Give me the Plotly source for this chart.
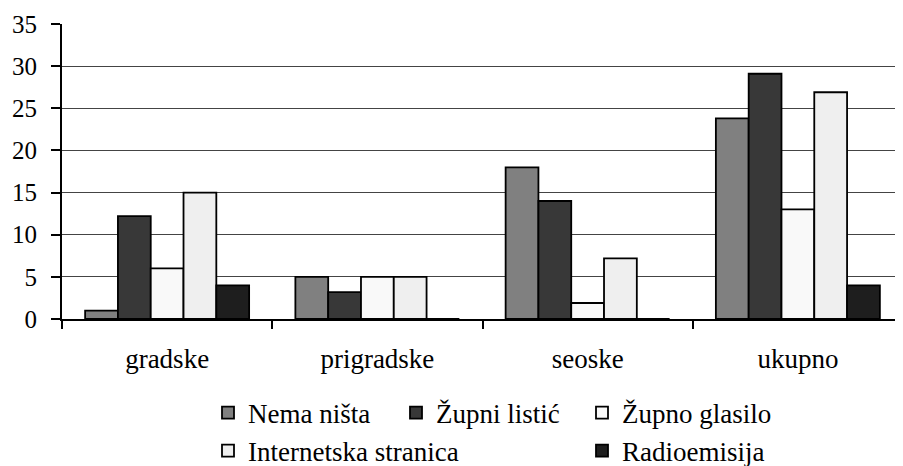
import plotly.graph_objects as go

categories = ["gradske", "prigradske", "seoske", "ukupno"]
nema_nista = [1, 5, 18, 23.8]
zupni_listic = [12.2, 3.2, 14, 29.1]
zupno_glasilo = [6, 5, 1.9, 13]
internetska_stranica = [15, 5, 7.2, 26.9]
radioemisija = [4, 0, 0, 4]

series_names = ["Nema ništa", "Župni listić", "Župno glasilo", "Internetska stranica", "Radioemisija"]
series_values = [nema_nista, zupni_listic, zupno_glasilo, internetska_stranica, radioemisija]
series_colors = ["#808080", "#383838", "#f9f9f9", "#efefef", "#1e1e1e"]
legend_ids = ["legend", "legend2", "legend3", "legend4", "legend5"]

FONT = "Times New Roman"
fig = go.Figure()
for name, vals, col, lg in zip(series_names, series_values, series_colors, legend_ids):
    fig.add_trace(go.Bar(x=categories, y=vals, name=name, legend=lg,
                         marker=dict(color=col, line=dict(color="#000000", width=1.8))))

OFF = 8  # page body margin
W, H = 903 - OFF, 466 - OFF
L, T = 62 - OFF, 24 - OFF
B = H - (319 - OFF)
R = 0
pw = W - L - R
ph = H - T - B

def px2x(px):
    return (px - OFF - L) / pw

def py2y(py):
    return (H - B - (py - OFF)) / ph

# legend anchors in page pixels (left edge, vertical centre)
legend_pos = [(208, 413), (396, 413), (582, 413), (208, 451), (582, 451)]
legend_layout = {}
for lg, (lx, ly) in zip(legend_ids, legend_pos):
    legend_layout[lg] = dict(x=px2x(lx), y=py2y(ly), xanchor="left", yanchor="middle",
                             orientation="v", font=dict(family=FONT, size=27, color="#000000"),
                             bgcolor="rgba(0,0,0,0)", borderwidth=0)

fig.update_layout(
    width=W, height=H,
    margin=dict(l=L, r=R, t=T, b=B, pad=0, autoexpand=False),
    paper_bgcolor="white", plot_bgcolor="white",
    barmode="group", bargap=0.22, bargroupgap=0,
    font=dict(family=FONT, size=25, color="#000000"),
    showlegend=True,
    **legend_layout,
)
fig.update_yaxes(range=[0, 35], dtick=5, showgrid=True, gridcolor="#444444", gridwidth=1,
                 showline=True, linecolor="#000000", linewidth=2, ticks="outside",
                 ticklen=9, tickwidth=2, tickcolor="#000000", zeroline=False,
                 tickfont=dict(family=FONT, size=25), ticklabelstandoff=9)
fig.update_xaxes(showline=True, linecolor="#000000", linewidth=2, ticks="outside",
                 tickson="boundaries", ticklen=8, tickwidth=2, tickcolor="#000000",
                 tickfont=dict(family=FONT, size=27), ticklabelstandoff=15)

fig.write_html("out.html")
